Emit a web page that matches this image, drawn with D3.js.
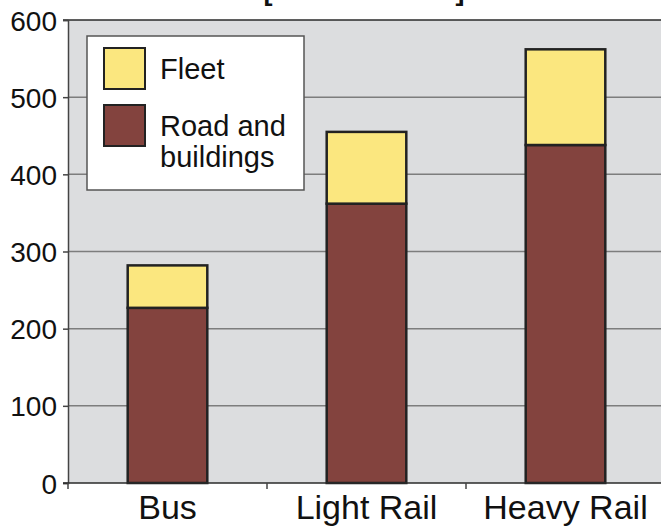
<!DOCTYPE html>
<html>
<head>
<meta charset="utf-8">
<script src="https://cdn.jsdelivr.net/npm/d3@7/dist/d3.min.js"></script>
<style>
  html, body { margin: 0; padding: 0; background: #ffffff; }
  svg { display: block; }
  text { font-family: "Liberation Sans", Arial, Helvetica, sans-serif; fill: #111; }
</style>
</head>
<body>
<svg id="chart" width="661" height="526"></svg>
<script>
// Categories and stacked series values
const categories = ["Bus", "Light Rail", "Heavy Rail"];
const roadAndBuildings = [227, 362, 438];
const fleet = [55, 93, 124];
const seriesNames = ["Road and buildings", "Fleet"];
const yTicks = [0, 100, 200, 300, 400, 500, 600];
const titleText = "[million dollars]";

const svg = d3.select("#chart");
const plot = { left: 68, top: 20, right: 665, bottom: 483 };

const colors = { "Fleet": "#fbe77f", "Road and buildings": "#83433e" };

const x = d3.scaleBand().domain(categories).range([plot.left, plot.right]).padding(0);
const y = d3.scaleLinear().domain([0, 600]).range([plot.bottom, plot.top]);

// Title (sits above the top edge; only the bracket tails reach into view)
svg.append("text")
  .attr("x", 364).attr("y", -0.5)
  .attr("text-anchor", "middle")
  .style("font-size", "27px").style("font-weight", "bold")
  .text(titleText);

// Plot background
svg.append("rect")
  .attr("x", plot.left).attr("y", plot.top)
  .attr("width", plot.right - plot.left).attr("height", plot.bottom - plot.top)
  .attr("fill", "#dcdddf");

// Horizontal gridlines
svg.append("g").selectAll("line")
  .data(yTicks.filter(d => d > 0 && d < 600))
  .join("line")
  .attr("x1", plot.left).attr("x2", plot.right)
  .attr("y1", d => y(d)).attr("y2", d => y(d))
  .attr("stroke", "#7d7d7d").attr("stroke-width", 1.5);

// Top border of the plot area
svg.append("line")
  .attr("x1", plot.left - 5).attr("x2", plot.right)
  .attr("y1", y(600)).attr("y2", y(600))
  .attr("stroke", "#2a2a2a").attr("stroke-width", 1.5);

// Stacked bars
const table = categories.map((c, i) => ({ category: c, "Road and buildings": roadAndBuildings[i], "Fleet": fleet[i] }));
const stacked = d3.stack().keys(seriesNames)(table);
const barW = x.bandwidth() * 0.4;

svg.append("g").selectAll("g")
  .data(stacked)
  .join("g")
  .attr("fill", d => colors[d.key])
  .selectAll("rect")
  .data(d => d)
  .join("rect")
  .attr("x", d => x(d.data.category) + (x.bandwidth() - barW) / 2)
  .attr("y", d => y(d[1]))
  .attr("width", barW)
  .attr("height", d => y(d[0]) - y(d[1]))
  .attr("stroke", "#222")
  .attr("stroke-width", 2.5);

// Y axis
const yAxis = d3.axisLeft(y).tickValues(yTicks).tickSize(5).tickPadding(6).tickFormat(d3.format("d"));
const gy = svg.append("g").attr("transform", `translate(${plot.left},0)`).call(yAxis);
gy.select(".domain").attr("stroke", "#444").attr("stroke-width", 1.5);
gy.selectAll(".tick line").attr("stroke", "#444").attr("stroke-width", 1.5);
gy.selectAll(".tick text")
  .style("font-size", "28px")
  .attr("fill", "#111")
  .attr("dy", "0.36em");

// X axis baseline with ticks at category boundaries
svg.append("line")
  .attr("x1", plot.left - 5).attr("x2", plot.right)
  .attr("y1", plot.bottom).attr("y2", plot.bottom)
  .attr("stroke", "#2a2a2a").attr("stroke-width", 1.5);
svg.append("g").selectAll("line")
  .data(categories)
  .join("line")
  .attr("x1", d => x(d)).attr("x2", d => x(d))
  .attr("y1", plot.bottom).attr("y2", plot.bottom + 6)
  .attr("stroke", "#444").attr("stroke-width", 1.5);
svg.append("g").selectAll("text")
  .data(categories)
  .join("text")
  .attr("x", d => x(d) + x.bandwidth() / 2)
  .attr("y", 519)
  .attr("text-anchor", "middle")
  .style("font-size", "34px")
  .text(d => d);

// Legend
const lg = svg.append("g");
lg.append("rect")
  .attr("x", 87).attr("y", 36).attr("width", 217).attr("height", 154)
  .attr("fill", "#ffffff").attr("stroke", "#555").attr("stroke-width", 1.5);
const legendItems = [
  { key: "Fleet", lines: ["Fleet"], sy: 48 },
  { key: "Road and buildings", lines: ["Road and", "buildings"], sy: 105 }
];
legendItems.forEach(it => {
  lg.append("rect")
    .attr("x", 104).attr("y", it.sy).attr("width", 41).attr("height", 41)
    .attr("fill", colors[it.key]).attr("stroke", "#222").attr("stroke-width", 2);
  it.lines.forEach((t, j) => {
    lg.append("text")
      .attr("x", 160).attr("y", it.sy + 31 + j * 31)
      .style("font-size", "29px")
      .text(t);
  });
});
</script>
</body>
</html>
